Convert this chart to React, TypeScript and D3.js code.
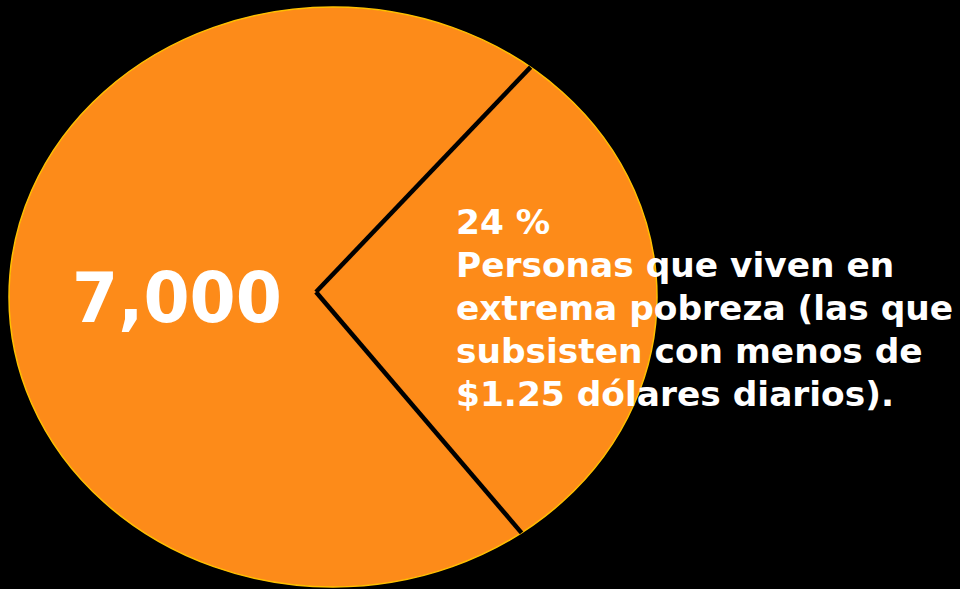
import React from "react";
import * as d3 from "d3";

const sliceNames = ["Resto de la población", "Extrema pobreza"];
const sliceValues = [76, 24];
const bigLabel = "7,000";
const smallLabelLines = [
  "24 %",
  "Personas que viven en",
  "extrema pobreza (las que",
  "subsisten con menos de",
  "$1.25 dólares diarios).",
];

const W = 960;
const H = 589;

export default function App() {
  // layout
  const cx = 333, cy = 297, rx = 324, ry = 290;
  const vx = 316, vy = 292;
  const skew = 1.18;
  const deg = Math.PI / 180;
  const start = 134.8 * deg;

  const pie = d3
    .pie<number>()
    .sort(null)
    .startAngle(start)
    .endAngle(start + 2 * Math.PI);
  const arcs = pie(sliceValues);

  const rayToEllipse = (a: number) => {
    const dx = Math.sin(a);
    const dy = -Math.cos(a) * skew;
    const ox = (vx - cx) / rx, oy = (vy - cy) / ry;
    const ex = dx / rx, ey = dy / ry;
    const A = ex * ex + ey * ey;
    const B = 2 * (ox * ex + oy * ey);
    const C = ox * ox + oy * oy - 1;
    const t = (-B + Math.sqrt(B * B - 4 * A * C)) / (2 * A);
    return [vx + t * dx, vy + t * dy];
  };

  const edges = arcs.map((a) => rayToEllipse(a.startAngle));

  return (
    <svg
      width={W}
      height={H}
      style={{ position: "absolute", left: 0, top: 0, background: "#000" }}
    >
      <rect x={0} y={0} width={W} height={H} fill="#000" />
      <ellipse
        cx={cx}
        cy={cy}
        rx={rx}
        ry={ry}
        fill="#FD8B19"
        stroke="#FFC000"
        strokeWidth={1.5}
      />
      {edges.map((p, i) => (
        <line
          key={sliceNames[i]}
          x1={vx}
          y1={vy}
          x2={p[0]}
          y2={p[1]}
          stroke="#000"
          strokeWidth={4.5}
        />
      ))}
      <text
        x={72}
        y={322}
        fill="#fff"
        fontFamily="'DejaVu Sans', Verdana, sans-serif"
        fontWeight="bold"
        fontSize={70}
        textLength={210}
        lengthAdjust="spacingAndGlyphs"
      >
        {bigLabel}
      </text>
      <text
        x={456}
        y={234}
        fill="#fff"
        fontFamily="'DejaVu Sans', Verdana, sans-serif"
        fontWeight="bold"
        fontSize={34.4}
      >
        {smallLabelLines.map((l, i) => (
          <tspan key={i} x={456} dy={i === 0 ? 0 : 43}>
            {l}
          </tspan>
        ))}
      </text>
    </svg>
  );
}
